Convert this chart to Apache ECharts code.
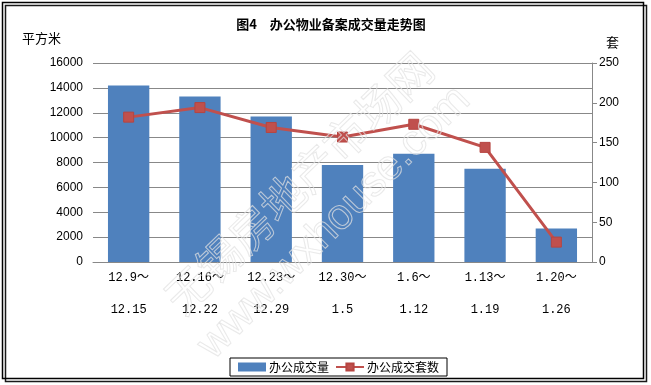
<!DOCTYPE html>
<html><head><meta charset="utf-8">
<script src="https://cdn.jsdelivr.net/npm/echarts@6/dist/echarts.min.js"></script>
<style>html,body{margin:0;padding:0;background:#fff}#c{width:651px;height:385px}</style>
</head><body><div id="c"></div>
<script>
var periodStart = ['12.9～','12.16～','12.23～','12.30～','1.6～','1.13～','1.20～'];
var periodEnd = ['12.15','12.22','12.29','1.5','1.12','1.19','1.26'];
var areaValues = [14200, 13300, 11700, 7800, 8700, 7500, 2700];
var unitValues = [182, 194, 169, 157, 173, 144, 25];
var leftTicks = [0, 2000, 4000, 6000, 8000, 10000, 12000, 14000, 16000];
var rightTicks = [0, 50, 100, 150, 200, 250];

var categories = periodStart.map(function(s, i){ return s + '\n' + periodEnd[i]; });
var cjk = '"Noto Sans CJK SC", "Liberation Sans", sans-serif';
var mono = '"Liberation Mono", "Noto Sans CJK SC", monospace';

var chart = echarts.init(document.getElementById('c'));
chart.setOption({
  animation: false,
  backgroundColor: '#fff',
  title: {
    text: '图4　办公物业备案成交量走势图',
    left: 326, top: 13, textAlign: 'center',
    textStyle: { fontFamily: cjk, fontSize: 13, fontWeight: 'bold', color: '#000' }
  },
  graphic: [
    { type: 'rect', shape: { x: 2.5, y: 2.5, width: 641, height: 376 },
      style: { fill: 'none', stroke: '#000', lineWidth: 1.5,
               shadowColor: 'rgba(0,0,0,0.9)', shadowOffsetX: 3, shadowOffsetY: 3, shadowBlur: 0 }, z: -10 },
    { type: 'text', left: 22, top: 32, style: { text: '平方米', font: '13px ' + cjk, fill: '#000' } },
    { type: 'text', left: 606, top: 36, style: { text: '套', font: '13px ' + cjk, fill: '#000' } },
    { type: 'text', x: 172, y: 305, rotation: Math.PI * 44 / 180, z: 100, silent: true,
      style: { text: '无锡房地产市场网', font: '44px ' + cjk, verticalAlign: 'middle', textVerticalAlign: 'middle',
               fill: 'rgba(255,255,255,0)', stroke: 'rgba(225,225,225,0.75)', lineWidth: 1 } },
    { type: 'text', x: 205, y: 352, rotation: Math.PI * 45 / 180, z: 100, silent: true,
      style: { text: 'www.wxhouse.com', font: '43px "Liberation Sans", sans-serif', verticalAlign: 'middle', textVerticalAlign: 'middle',
               fill: 'rgba(255,255,255,0)', stroke: 'rgba(225,225,225,0.75)', lineWidth: 1 } }
  ],
  legend: {
    left: 230, top: 358, width: 215, height: 20,
    padding: [3, 8, 3, 8], itemGap: 6,
    borderColor: '#000', borderWidth: 1,
    itemWidth: 28, itemHeight: 9,
    textStyle: { fontFamily: cjk, fontSize: 12, color: '#000', padding: [0,0,0,-2] },
    data: [ { name: '办公成交量', icon: 'rect' }, { name: '办公成交套数' } ]
  },
  grid: { left: 93, right: 59, top: 63, bottom: 123 },
  xAxis: {
    type: 'category', data: categories,
    axisLine: { lineStyle: { color: '#888', width: 1 } },
    axisTick: { show: false },
    axisLabel: { margin: 0, interval: 0, fontFamily: mono, fontSize: 12, color: '#000', lineHeight: 32 }
  },
  yAxis: [
    { type: 'value', min: 0, max: 16000, interval: 2000,
      axisLine: { show: false }, axisTick: { show: false },
      splitLine: { lineStyle: { color: '#888', width: 1 } },
      axisLabel: { margin: 10, fontFamily: '"Liberation Sans", sans-serif', fontSize: 12, color: '#000',
        formatter: function(v){ return leftTicks.indexOf(v) >= 0 ? String(v) : ''; } } },
    { type: 'value', min: 0, max: 250, interval: 50, position: 'right',
      axisLine: { show: true, lineStyle: { color: '#888' } },
      axisTick: { show: true, length: 5, inside: false, lineStyle: { color: '#888' } },
      splitLine: { show: false },
      axisLabel: { margin: 7, fontFamily: '"Liberation Sans", sans-serif', fontSize: 12, color: '#000',
        formatter: function(v){ return rightTicks.indexOf(v) >= 0 ? String(v) : ''; } } }
  ],
  series: [
    { name: '办公成交量', type: 'bar', data: areaValues, yAxisIndex: 0,
      barWidth: '58%', itemStyle: { color: '#4F81BD' } },
    { name: '办公成交套数', type: 'line', data: unitValues, yAxisIndex: 1,
      symbol: 'rect', symbolSize: 10,
      lineStyle: { color: '#C0504D', width: 3 },
      itemStyle: { color: '#C0504D', borderColor: '#B64541', borderWidth: 1 } }
  ]
});
</script></body></html>
